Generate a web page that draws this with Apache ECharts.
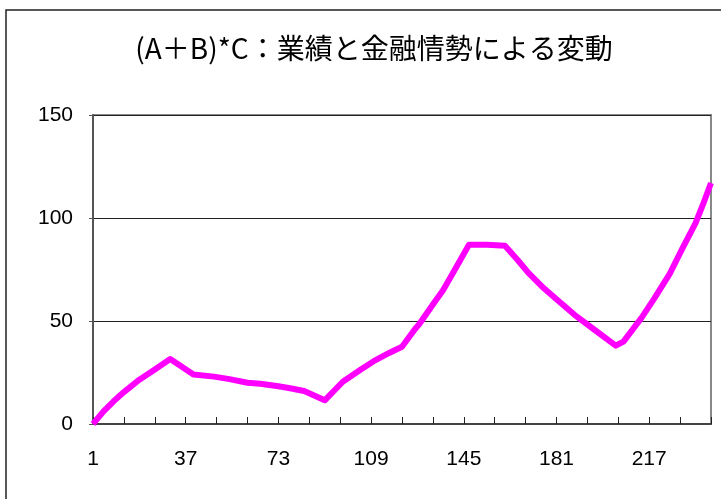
<!DOCTYPE html>
<html>
<head>
<meta charset="utf-8">
<script src="https://cdn.jsdelivr.net/npm/echarts@6/dist/echarts.min.js"></script>
<style>
  html, body { margin: 0; padding: 0; background: #fff; }
  #chart { width: 721px; height: 499px; }
</style>
</head>
<body>
<div id="chart"></div>
<script>
// 期間（1始まり）と値：グラフから読み取った折れ点
const periods = [1, 5, 9, 13, 19, 25, 31, 40, 48, 54, 61, 66, 73, 77, 83, 91, 98, 105, 110, 116, 121, 126, 128, 133, 137, 142, 147, 154, 161, 166, 170, 176, 181, 188, 196, 204, 207, 214, 219, 225, 230, 235, 238, 241]
const values = [0, 6, 11, 15.5, 21.5, 26.5, 31.5, 24, 23, 21.8, 20, 19.5, 18.3, 17.5, 16, 11.5, 20.5, 26.5, 30.5, 34.5, 37.5, 46, 49, 58, 65, 76, 87, 87, 86.5, 79.5, 73.5, 66, 60.5, 53, 45.5, 38, 40, 51.5, 61, 73, 85.5, 97.5, 107, 117]
const xLabels = [1, 37, 73, 109, 145, 181, 217]
const yTicks = [0, 50, 100, 150]

const titleText = '(A＋B)*C：業績と金融情勢による変動'

const chart = echarts.init(document.getElementById('chart'))

// x軸は0始まりで持ち、ラベルだけ1始まりで表示
const seriesData = periods.map((p, i) => [p - 1, values[i]])

const option = {
  animation: false,
  backgroundColor: '#fff',
  title: {
    text: titleText,
    left: 369,
    top: 29,
    textAlign: 'center',
    textStyle: {
      fontFamily: 'Noto Sans CJK JP',
      fontSize: 28,
      fontWeight: 'normal',
      color: '#000'
    }
  },
  graphic: [
    {
      type: 'rect',
      z: -1,
      shape: { x: 6, y: 10, width: 800, height: 600 },
      style: { fill: 'none', stroke: '#222', lineWidth: 1.5 }
    }
  ],
  grid: {
    left: 93,
    right: 10,
    top: 115,
    bottom: 75,
    show: true,
    borderColor: '#888',
    borderWidth: 2
  },
  xAxis: {
    type: 'value',
    min: 0,
    max: 240,
    interval: 12,
    axisLine: { lineStyle: { color: '#444', width: 2 } },
    axisTick: { inside: true, length: 7, lineStyle: { color: '#222', width: 1 } },
    splitLine: { show: false },
    axisLabel: {
      margin: 25,
      fontFamily: 'Liberation Sans',
      fontSize: 21,
      color: '#000',
      formatter: v => (xLabels.indexOf(v + 1) >= 0 ? String(v + 1) : '')
    }
  },
  yAxis: {
    type: 'value',
    min: yTicks[0],
    max: yTicks[yTicks.length - 1],
    interval: 50,
    axisLine: { show: true, lineStyle: { color: '#555', width: 2 } },
    axisTick: { show: true, length: 4, lineStyle: { color: '#555' } },
    splitLine: { lineStyle: { color: '#222', width: 1 } },
    axisLabel: {
      margin: 20,
      fontFamily: 'Liberation Sans',
      fontSize: 21,
      color: '#000'
    }
  },
  series: [
    {
      type: 'line',
      data: seriesData,
      showSymbol: false,
      lineStyle: { color: '#ff00ff', width: 6, join: 'round' },
      z: 3
    }
  ]
}

chart.setOption(option)
</script>
</body>
</html>
